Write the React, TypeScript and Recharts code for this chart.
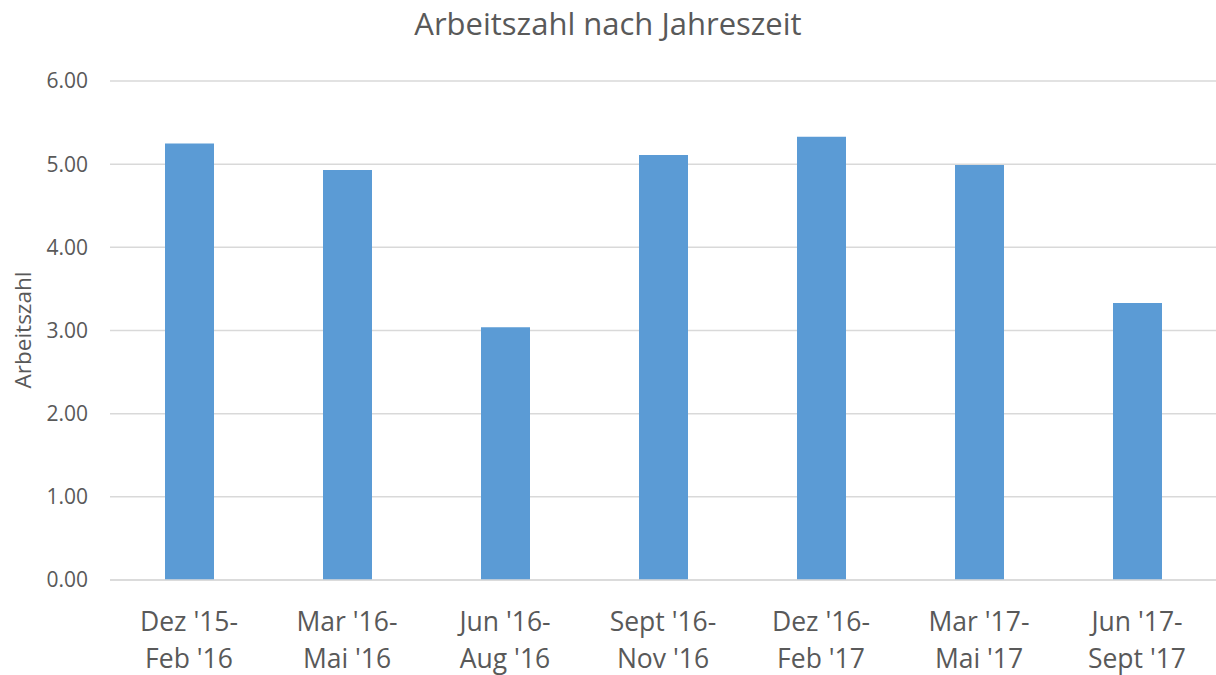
import React from "react";
import { BarChart, Bar, XAxis, YAxis, CartesianGrid } from "recharts";

// Jahreszeiten (zweizeilige Achsenbeschriftung)
const periods = [
  "Dez '15-\nFeb '16",
  "Mar '16-\nMai '16",
  "Jun '16-\nAug '16",
  "Sept '16-\nNov '16",
  "Dez '16-\nFeb '17",
  "Mar '17-\nMai '17",
  "Jun '17-\nSept '17",
];
const arbeitszahl = [5.25, 4.93, 3.04, 5.11, 5.33, 4.99, 3.33];
const yTicks = [0, 1, 2, 3, 4, 5, 6];

const data = periods.map((p, i) => ({ name: p, value: arbeitszahl[i] }));

const FONT = "'Open Sans', 'DejaVu Sans', sans-serif";
const TEXT = "#595959";

function PeriodTick(props: any) {
  const { x, payload } = props;
  const lines = String(payload.value).split("\n");
  // Grundlinien relativ zur x-Achse (y = 580)
  const base = 580;
  return (
    <text x={x} y={base} textAnchor="middle" fill={TEXT} fontSize={26.5} fontFamily={FONT}>
      {lines.map((l, i) => (
        <tspan key={i} x={x} y={base + 51 + i * 37}>
          {l}
        </tspan>
      ))}
    </text>
  );
}

export default function App() {
  return (
    <div style={{ position: "absolute", left: 0, top: 0, width: 1216, height: 675, background: "#fff", fontFamily: FONT }}>
      <div
        style={{
          position: "absolute",
          top: 2,
          left: 0,
          width: 1216,
          textAlign: "center",
          fontSize: 31,
          color: TEXT,
          lineHeight: "42px",
        }}
      >
        Arbeitszahl nach Jahreszeit
      </div>
      <div
        style={{
          position: "absolute",
          left: 22,
          top: 330,
          transform: "translate(-50%, -50%) rotate(-90deg)",
          fontSize: 22.5,
          color: TEXT,
          whiteSpace: "nowrap",
        }}
      >
        Arbeitszahl
      </div>
      <BarChart
        width={1216}
        height={675}
        data={data}
        margin={{ top: 81, right: 0, bottom: 0, left: 0 }}
        barSize={49}
      >
        <CartesianGrid vertical={false} stroke="#D9D9D9" strokeWidth={1.5} />
        <XAxis
          dataKey="name"
          height={95}
          axisLine={{ stroke: "#D9D9D9", strokeWidth: 1.5 }}
          tickLine={false}
          interval={0}
          tick={<PeriodTick />}
        />
        <YAxis
          width={110}
          domain={[0, 6]}
          ticks={yTicks}
          axisLine={false}
          tickLine={false}
          tickSize={0}
          tickMargin={22}
          tickFormatter={(v: number) => v.toFixed(2)}
          tick={{ fill: TEXT, fontSize: 21, fontFamily: FONT }}
        />
        <Bar dataKey="value" fill="#5B9BD5" isAnimationActive={false} />
      </BarChart>
    </div>
  );
}
